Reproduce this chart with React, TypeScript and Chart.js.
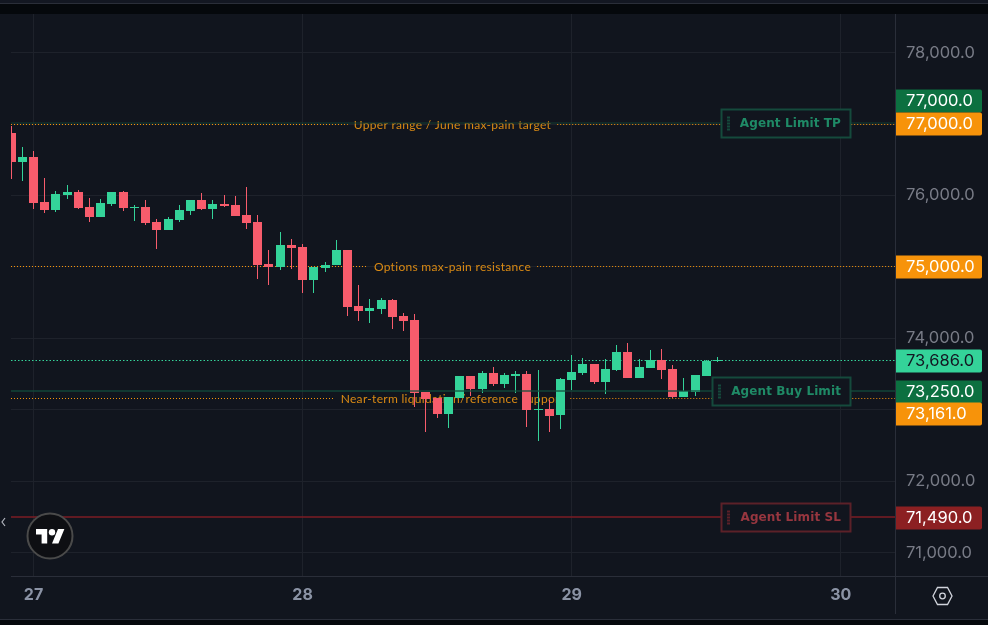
import React, { useEffect, useRef } from "react";
import { Chart, registerables } from "chart.js";

Chart.register(...registerables);

const hours = Array.from({ length: 64 }, (_, i) => i - 2);
const opens = [76874,76468,76538,75908,75796,76006,76048,75838,75698,75880,76048,75824,75838,75628,75516,75656,75782,75936,75810,75880,75866,75726,75628,75040,74998,75306,75278,74816,74984,75026,75236,74452,74382,74410,74536,74312,74256,73248,73164,72940,73164,73472,73290,73514,73360,73472,73500,72996,73010,72926,73416,73514,73640,73388,73556,73808,73444,73584,73696,73570,73178,73248,73472,73682];
const closes = [76468,76538,75894,75796,76020,76048,75824,75698,75894,76048,75824,75838,75614,75516,75670,75796,75936,75810,75880,75852,75712,75614,75026,74998,75306,75264,74816,74998,75026,75236,74438,74382,74424,74536,74298,74242,73234,73150,72940,73178,73472,73290,73514,73360,73486,73500,72996,73010,72912,73430,73528,73640,73388,73570,73808,73444,73598,73696,73556,73178,73262,73486,73682,73686];
const highs = [76972,76678,76622,76244,76062,76146,76076,75964,75950,76048,76062,75866,75936,75670,75698,75866,75936,76034,75936,76006,75992,76118,75726,75236,75488,75390,75320,74998,75068,75376,75236,74746,74550,74564,74550,74354,74340,73248,73164,73178,73472,73472,73542,73598,73514,73542,73542,73556,73136,73444,73766,73724,73640,73710,73906,73934,73710,73836,73850,73626,73444,73486,73696,73738];
const lows = [76230,76202,75810,75754,75768,75950,75810,75628,75698,75852,75782,75642,75586,75250,75516,75628,75726,75796,75670,75838,75712,75530,74830,74746,74956,74970,74634,74634,74928,75026,74312,74242,74214,74340,74130,74102,73038,72688,72884,72744,73164,73192,73234,73332,73304,73234,72758,72562,72688,72730,73276,73486,73360,73220,73542,73444,73444,73584,73430,73164,73178,73192,73472,73668];

const priceTicks = [71000, 72000, 73000, 74000, 75000, 76000, 77000, 78000];
const dayTicks = [0, 24, 48, 72];
const dayLabels = ["27", "28", "29", "30"];

const tpPrice = 77000;
const buyPrice = 73250;
const slPrice = 71490;
const lastPrice = 73686;
const upperPrice = 77000;
const painPrice = 75000;
const liqPrice = 73161;

const annotationLabels = [
  "Upper range / June max-pain target",
  "Options max-pain resistance",
  "Near-term liquidation/reference support",
];
const annotationPrices = [upperPrice, painPrice, liqPrice];
const agentLabels = ["Agent Limit TP", "Agent Buy Limit", "Agent Limit SL"];
const agentPrices = [tpPrice, buyPrice, slPrice];

const BG = "#11151e";
const UP = "#34d399";
const DOWN = "#f75c6c";
const ORANGE = "#f7930a";
const FONT = "Inter";
const STEP = 11.213;

function fmt(v: number) {
  return v.toLocaleString("en-US", { minimumFractionDigits: 1, maximumFractionDigits: 1 });
}

const TV_LOGO = "M14 25H7V14H0V7h14v18zM28 25h-8l7.5-18h8L28 25z";

const overlay = {
  id: "overlay",
  beforeDraw(chart: any) {
    const { ctx, width, height } = chart;
    ctx.save();
    ctx.fillStyle = BG;
    ctx.fillRect(0, 0, width, height);
    ctx.fillStyle = "#131722";
    ctx.fillRect(0, 0, width, 3);
    ctx.fillStyle = "#2a2e39";
    ctx.fillRect(0, 3, width, 1);
    ctx.fillStyle = "#05080c";
    ctx.fillRect(0, 4, width, 10);
    ctx.fillRect(0, 620, width, 5);
    ctx.fillStyle = "#2a2e39";
    ctx.fillRect(0, 619, width, 1);
    ctx.restore();
  },
  beforeDatasetsDraw(chart: any) {
    const { ctx, chartArea: a, scales } = chart;
    const y = scales.y;
    // snap candle geometry to whole pixels
    chart.data.datasets.forEach((_: any, di: number) => {
      chart.getDatasetMeta(di).data.forEach((el: any) => {
        el.x = Math.floor(el.x) + 0.5;
        const ry = Math.round(el.y);
        const rb = Math.round(el.base);
        if (ry === rb) {
          el.y = Math.floor(Math.min(el.y, el.base));
          el.base = el.y + 1;
        } else {
          el.y = ry;
          el.base = rb;
        }
      });
    });
    ctx.save();
    ctx.beginPath();
    ctx.rect(a.left, a.top, a.right - a.left, a.bottom - a.top);
    ctx.clip();
    // current price dotted line
    ctx.strokeStyle = UP;
    ctx.lineWidth = 1;
    ctx.setLineDash([1.5, 2]);
    const ly = Math.floor(y.getPixelForValue(lastPrice)) + 0.5;
    ctx.beginPath();
    ctx.moveTo(a.left, ly);
    ctx.lineTo(a.right, ly);
    ctx.stroke();
    // annotation lines with text gap
    ctx.font = `12px Lato`;
    ctx.letterSpacing = "0.3px";
    ctx.textAlign = "center";
    ctx.textBaseline = "middle";
    const cx = 452.5;
    annotationLabels.forEach((t, i) => {
      const py = Math.floor(y.getPixelForValue(annotationPrices[i])) + 0.5;
      const w = ctx.measureText(t).width;
      ctx.strokeStyle = ORANGE;
      ctx.setLineDash([1, 2]);
      ctx.beginPath();
      ctx.moveTo(a.left, py);
      ctx.lineTo(cx - w / 2 - 6, py);
      ctx.moveTo(cx + w / 2 + 6, py);
      ctx.lineTo(a.right, py);
      ctx.stroke();
      ctx.fillStyle = "#da8a14";
      ctx.fillText(t, cx, py + 0.5);
    });
    ctx.letterSpacing = "0px";
    ctx.restore();
  },
  afterDatasetsDraw(chart: any) {
    const { ctx, chartArea: a, scales } = chart;
    const y = scales.y;
    ctx.save();
    ctx.setLineDash([]);
    // agent lines
    const lines = [
      [tpPrice, "#123f33", -1, 1],
      [buyPrice, "rgba(18,78,60,0.85)", 0, 1.4],
      [slPrice, "#7c1d25", 0, 1.4],
    ] as [number, string, number, number][];
    lines.forEach(([p, c, off, w]) => {
      const py = Math.floor(y.getPixelForValue(p)) + off;
      ctx.strokeStyle = c;
      ctx.lineWidth = w;
      ctx.beginPath();
      ctx.moveTo(a.left, py);
      ctx.lineTo(a.right, py);
      ctx.stroke();
    });
    // agent label boxes
    const boxes = [
      { l: 721, h: 29, fg: "#1f8a66", bd: "#154a3c" },
      { l: 712, h: 29, fg: "#1f8a66", bd: "#154a3c" },
      { l: 721, h: 29, fg: "#97363f", bd: "#5c2128" },
    ];
    ctx.font = `bold 12px "DejaVu Sans"`;
    ctx.letterSpacing = "0.1px";
    ctx.textBaseline = "middle";
    ctx.textAlign = "right";
    agentLabels.forEach((t, i) => {
      const b = boxes[i];
      const c = Math.round(y.getPixelForValue(agentPrices[i])) - 0.5;
      const r = 851;
      const top = c - 14.5;
      ctx.fillStyle = BG;
      ctx.fillRect(b.l, top, r - b.l, b.h);
      ctx.strokeStyle = b.bd;
      ctx.lineWidth = 2;
      ctx.strokeRect(b.l + 0.5, top + 0.5, r - b.l - 1, b.h - 1);
      ctx.fillStyle = b.bd;
      for (let k = 0; k < 5; k++) ctx.fillRect(b.l + 6, c - 7 + k * 3, 3, 2);
      ctx.fillStyle = b.fg;
      ctx.fillText(t, r - 10, c);
    });
    ctx.letterSpacing = "0px";
    // price tags
    const tags = [
      { p: tpPrice, off: -23, bg: "#0c7040", fg: "#ffffff" },
      { p: upperPrice, off: 0, bg: ORANGE, fg: "#ffffff" },
      { p: painPrice, off: 0, bg: ORANGE, fg: "#ffffff" },
      { p: lastPrice, off: 0, bg: UP, fg: "#131722" },
      { p: buyPrice, off: 0, bg: "#0c7040", fg: "#ffffff" },
      { p: liqPrice, off: 16, bg: ORANGE, fg: "#ffffff" },
      { p: slPrice, off: 0, bg: "#8c2022", fg: "#ffffff" },
    ];
    ctx.font = `16.5px ${FONT}`;
    ctx.textAlign = "left";
    tags.forEach((t) => {
      const c = Math.round(y.getPixelForValue(t.p)) + t.off;
      ctx.fillStyle = t.bg;
      ctx.beginPath();
      ctx.roundRect(896, c - 11.5, 86, 23, [0, 2, 2, 0]);
      ctx.fill();
      ctx.fillStyle = t.fg;
      ctx.fillText(fmt(t.p), 906, c + 0.5);
    });
    // axis borders
    ctx.fillStyle = "#2a2e39";
    ctx.fillRect(11, 576, 977, 1);
    ctx.fillRect(895, 14, 1, 600);
    // logo
    ctx.beginPath();
    ctx.arc(50, 536, 22.5, 0, Math.PI * 2);
    ctx.fillStyle = "#0e0f13";
    ctx.fill();
    ctx.strokeStyle = "#4a4a4a";
    ctx.lineWidth = 2;
    ctx.stroke();
    ctx.save();
    ctx.translate(36, 523.4);
    ctx.scale(0.8, 0.8);
    ctx.fillStyle = "#ffffff";
    ctx.fill(new Path2D(TV_LOGO));
    ctx.beginPath();
    ctx.arc(20, 11, 4, 0, Math.PI * 2);
    ctx.fill();
    ctx.restore();
    // chevron
    ctx.strokeStyle = "#b2b5be";
    ctx.lineWidth = 1.2;
    ctx.beginPath();
    ctx.moveTo(5, 518);
    ctx.lineTo(2, 522);
    ctx.lineTo(5, 526);
    ctx.stroke();
    // settings hexagon
    ctx.strokeStyle = "#d1d4dc";
    ctx.lineWidth = 1.3;
    ctx.beginPath();
    const hx = 942.5, hy = 596;
    ctx.moveTo(hx - 9.5, hy);
    ctx.lineTo(hx - 5, hy - 8.5);
    ctx.lineTo(hx + 5, hy - 8.5);
    ctx.lineTo(hx + 9.5, hy);
    ctx.lineTo(hx + 5, hy + 8.5);
    ctx.lineTo(hx - 5, hy + 8.5);
    ctx.closePath();
    ctx.stroke();
    ctx.beginPath();
    ctx.arc(hx, hy, 2.8, 0, Math.PI * 2);
    ctx.stroke();
    ctx.restore();
  },
};

export default function App() {
  const ref = useRef<HTMLCanvasElement | null>(null);
  useEffect(() => {
    document.body.style.margin = "0";
    document.body.style.background = BG;
    const colors = closes.map((c, i) => (c >= opens[i] ? UP : DOWN));
    const chart = new Chart(ref.current as HTMLCanvasElement, {
      type: "bar",
      data: {
        datasets: [
          {
            label: "Wick",
            data: hours.map((h, i) => ({ x: h, y: [lows[i], highs[i]] })),
            backgroundColor: colors,
            barThickness: 1,
            grouped: false,
            inflateAmount: 0,
            borderWidth: 0,
          } as any,
          {
            label: "Body",
            data: hours.map((h, i) => ({ x: h, y: [opens[i], closes[i]] })),
            backgroundColor: colors,
            barThickness: 9,
            grouped: false,
            inflateAmount: 0,
            borderWidth: 0,
          } as any,
        ],
      },
      options: {
        animation: false,
        responsive: false,
        devicePixelRatio: 1,
        layout: { padding: { left: 11, top: 14, right: 0, bottom: 0 } },
        plugins: { legend: { display: false }, tooltip: { enabled: false } },
        scales: {
          x: {
            type: "linear",
            offset: false,
            min: (11 - 33.5) / STEP,
            max: (895 - 33.5) / STEP,
            afterBuildTicks: (s: any) => {
              s.ticks = dayTicks.map((v) => ({ value: v }));
            },
            afterFit: (s: any) => {
              s.height = 49;
              s.paddingLeft = 0;
              s.paddingRight = 0;
            },
            grid: { color: "#1e222b", drawTicks: false, offset: false },
            border: { display: false },
            ticks: {
              maxRotation: 0,
              autoSkip: false,
              padding: 10,
              color: "#8b93a5",
              font: { family: FONT, size: 16, weight: "bold" },
              callback: (v: any) => dayLabels[dayTicks.indexOf(Number(v))] ?? "",
            },
          },
          y: {
            position: "right",
            min: 78736 - 14 * 576,
            max: 78736 - 14 * 14,
            afterBuildTicks: (s: any) => {
              s.ticks = priceTicks.map((v) => ({ value: v }));
            },
            afterFit: (s: any) => {
              s.width = 93;
              s.paddingTop = 0;
              s.paddingBottom = 0;
            },
            grid: { color: "#1e222b", drawTicks: false },
            border: { display: false },
            ticks: {
              padding: 11,
              color: "#787b86",
              font: { family: FONT, size: 16.5 },
              callback: (v: any) => fmt(Number(v)),
            },
          },
        },
      } as any,
      plugins: [overlay],
    });
    return () => chart.destroy();
  }, []);
  return <canvas ref={ref} width={988} height={625} style={{ display: "block" }} />;
}
